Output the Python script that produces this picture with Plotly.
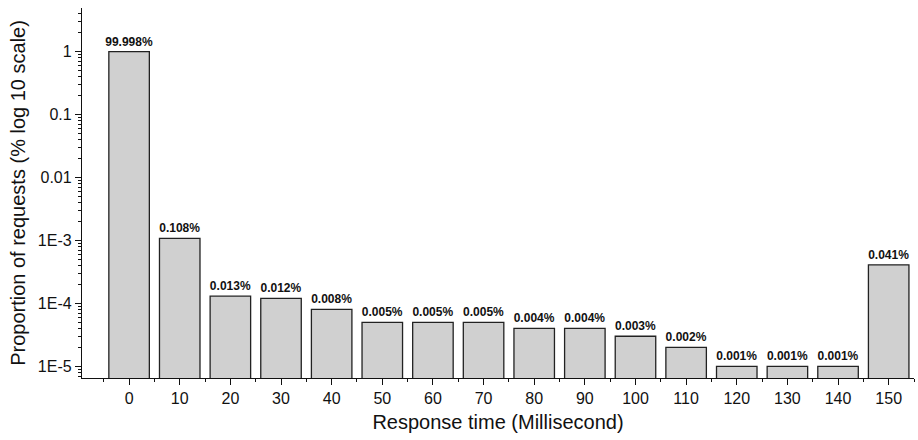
import plotly.graph_objects as go
import numpy as np

categories = [0, 10, 20, 30, 40, 50, 60, 70, 80, 90, 100, 110, 120, 130, 140, 150]
proportions = [0.99998, 1.08e-3, 1.3e-4, 1.2e-4, 8e-5, 5e-5, 5e-5, 5e-5, 4e-5, 4e-5,
               3e-5, 2e-5, 1e-5, 1e-5, 1e-5, 4.1e-4]
labels = ["99.998%", "0.108%", "0.013%", "0.012%", "0.008%", "0.005%", "0.005%", "0.005%",
          "0.004%", "0.004%", "0.003%", "0.002%", "0.001%", "0.001%", "0.001%", "0.041%"]
y_tickvals = [1e-5, 1e-4, 1e-3, 0.01, 0.1, 1]
y_ticktext = ["1E-5", "1E-4", "1E-3", "0.01", "0.1", "1"]

minor_y = [m * 10.0 ** e for e in range(-6, 1) for m in range(2, 10)]
minor_x = [c + 5 for c in range(-10, 160, 10)]

fig = go.Figure(go.Bar(
    x=categories, y=proportions, width=8,
    marker=dict(color="#d0d0d0", line=dict(color="#222222", width=1.3)),
    text=labels, textposition="outside", cliponaxis=False, constraintext="none",
    textfont=dict(family="Liberation Sans", size=12, color="#111111", weight="bold"),
))

fig.update_layout(
    width=918, height=440,
    margin=dict(l=82, r=4, t=8, b=62),
    plot_bgcolor="white", paper_bgcolor="white",
    font=dict(family="Liberation Sans", color="#111111"),
    showlegend=False,
    uniformtext=dict(mode=False),
)
fig.update_xaxes(
    range=[-9.3, 155], tickvals=categories, ticktext=[str(c) for c in categories],
    showline=True, linecolor="#111111", linewidth=1.3, mirror=False,
    ticks="outside", ticklen=6, tickwidth=1.2, tickcolor="#111111",
    tickfont=dict(size=16),
    minor=dict(tickvals=minor_x, ticks="outside", ticklen=3, tickwidth=1.2, tickcolor="#111111"),
    showgrid=False, zeroline=False,
    title=dict(text="Response time (Millisecond)", font=dict(size=20), standoff=8),
)
fig.update_yaxes(
    type="log", range=[-5.186, 0.694], tickvals=y_tickvals, ticktext=y_ticktext,
    showline=True, linecolor="#111111", linewidth=1.3,
    ticks="outside", ticklen=6, tickwidth=1.2, tickcolor="#111111",
    tickfont=dict(size=16),
    minor=dict(tickvals=minor_y, ticks="outside", ticklen=3, tickwidth=1, tickcolor="#111111"),
    showgrid=False, zeroline=False,
    title=dict(text="Proportion of requests (% log 10 scale)", font=dict(size=20), standoff=6),
)

fig.write_html("out.html")
